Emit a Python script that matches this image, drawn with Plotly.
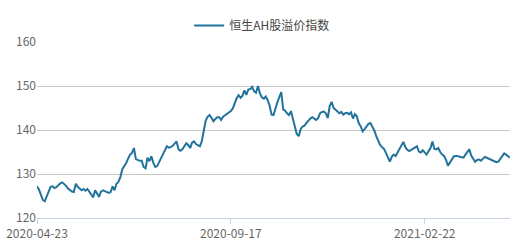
import plotly.graph_objects as go

series_name = "恒生AH股溢价指数"
tick_labels = ["2020-04-23", "2020-09-17", "2021-02-22"]
tick_index = [0, 100, 200]

values = [
    127.2, 126.5, 125.3, 124.1, 123.8, 124.8, 126.2, 127.1, 127.2, 126.8,
    127.0, 127.5, 127.9, 128.1, 127.8, 127.3, 126.7, 126.3, 126.0, 125.9,
    127.8, 127.1, 126.8, 126.3, 126.6, 126.2, 126.6, 126.0, 125.2, 124.7,
    126.3, 125.4, 124.8, 126.0, 126.3, 126.1, 125.8, 125.7, 125.9, 127.2,
    126.3, 127.8, 128.2, 129.3, 131.1, 131.7, 132.5, 133.5, 134.4, 134.8,
    135.9, 133.4, 133.1, 133.0, 133.0, 131.6, 131.3, 133.7, 132.9, 134.0,
    132.6, 131.6, 131.8, 132.7, 133.3, 134.2, 135.2, 136.3, 136.0, 136.1,
    136.4, 136.8, 137.4, 135.6, 135.3, 135.6, 136.4, 137.0, 136.6, 135.9,
    137.1, 137.4, 136.8, 136.5, 136.3, 137.4, 139.5, 142.1, 143.0, 143.4,
    142.8, 142.0, 142.5, 142.9, 142.9, 142.3, 143.0, 143.3, 143.6, 144.0,
    144.3, 144.9, 146.2, 147.2, 147.9, 147.3, 147.8, 149.0, 148.0, 149.2,
    149.3, 149.8, 148.8, 148.5, 150.0, 148.3, 147.4, 147.1, 147.6, 146.8,
    145.5, 143.5, 143.4, 145.0, 146.3, 147.5, 148.6, 144.7, 144.4, 143.8,
    143.4, 144.3, 142.5, 140.6, 139.1, 138.6, 140.2, 140.8, 141.0, 141.6,
    142.2, 142.6, 142.9, 142.6, 142.3, 142.7, 143.8, 144.1, 144.2, 143.8,
    142.7, 145.5, 146.4, 145.0, 144.6, 144.2, 143.8, 144.1, 143.5, 143.8,
    143.9, 143.6, 144.0, 142.6, 143.6, 143.1, 141.5, 140.8, 139.7, 140.2,
    140.9, 141.4, 141.6, 140.9, 139.9, 138.6, 137.4, 136.6, 136.1, 135.7,
    134.8, 133.7, 132.8, 133.9, 134.4, 134.1, 134.9, 135.6, 136.5, 137.3,
    136.1, 135.5, 135.2, 135.5, 135.8, 136.1, 136.3, 135.1, 134.9, 135.4,
    135.0, 134.4, 135.2, 135.9, 137.4, 135.7, 135.6, 135.9, 135.0, 134.4,
    134.1, 133.2, 131.9, 132.7, 133.4, 134.0, 134.1, 134.1, 133.9, 133.8,
    133.7, 134.4, 135.0, 135.6, 134.2, 133.4, 132.8, 133.2, 133.3, 133.0,
    133.5, 133.9, 133.7, 133.5, 133.3, 133.0, 132.8, 132.7, 132.8, 133.4,
    133.9, 134.7, 134.4, 134.0, 133.7,
]
x_index = list(range(len(values)))

fig = go.Figure()
fig.add_trace(go.Scatter(
    x=x_index, y=values, mode="lines", name=series_name,
    line=dict(color="#22739c", width=2),
))

fig.update_layout(
    width=514, height=242,
    margin=dict(l=37, r=4, t=42, b=24, autoexpand=False),
    paper_bgcolor="white", plot_bgcolor="white",
    font=dict(family="Noto Sans CJK SC, sans-serif", size=12, color="#666"),
    showlegend=True,
    legend=dict(orientation="h", xref="container", x=0.51, xanchor="center",
                yref="container", y=0.895, yanchor="middle",
                font=dict(size=12, color="#444"), itemwidth=30,
                bgcolor="rgba(0,0,0,0)"),
    xaxis=dict(
        range=[0, len(values) - 1], automargin=False,
        tickmode="array", tickvals=tick_index, ticktext=tick_labels,
        showgrid=False, zeroline=False,
        showline=True, linecolor="#c4d3e3", linewidth=1,
        ticks="outside", ticklen=5, tickcolor="#c4d3e3",
        tickfont=dict(size=12, color="#666"),
    ),
    yaxis=dict(
        range=[120, 160], tickvals=[120, 130, 140, 150, 160], automargin=False,
        showgrid=True, gridcolor="#c8c8c8", gridwidth=1,
        zeroline=False, showline=False, ticks="",
        tickfont=dict(size=12, color="#666"),
    ),
)

fig.write_html("out.html")
